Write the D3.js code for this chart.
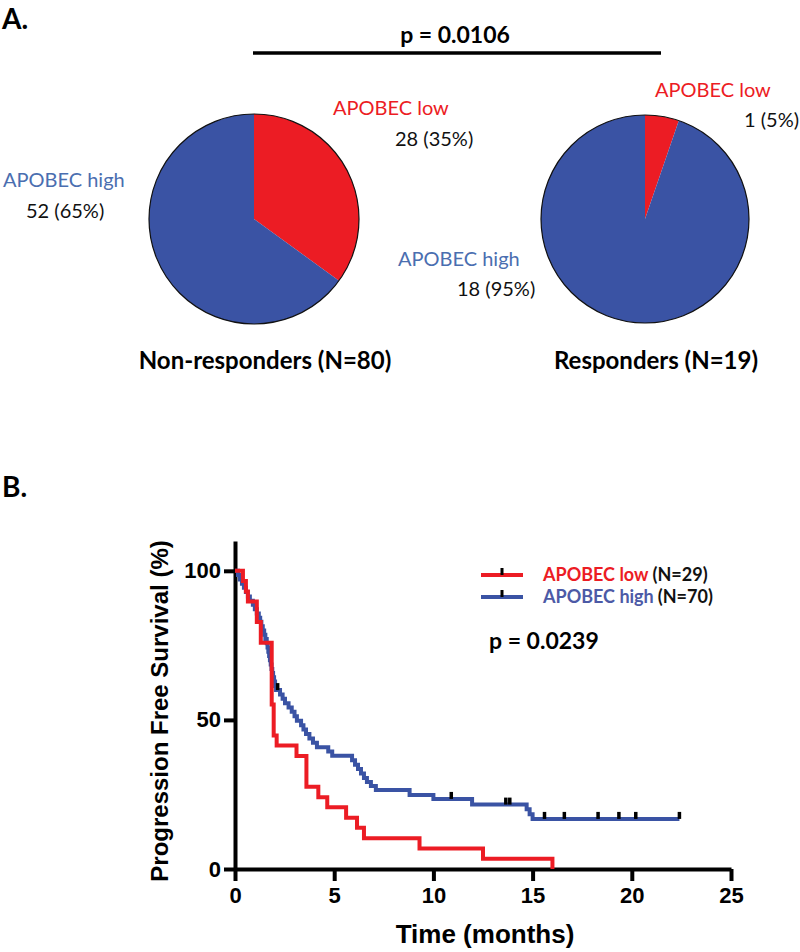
<!DOCTYPE html>
<html>
<head>
<meta charset="utf-8">
<script src="https://cdn.jsdelivr.net/npm/d3@7"></script>
<style>
  html, body { margin: 0; padding: 0; background: #fff; }
  svg { display: block; }
</style>
</head>
<body>
<script>
// ---------- Panel A data ----------
const pieGroups = ["Non-responders (N=80)", "Responders (N=19)"];
const pieCategories = ["APOBEC low", "APOBEC high"];
const lowCounts = [28, 1];
const highCounts = [52, 18];
const lowLabels = ["28 (35%)", "1 (5%)"];
const highLabels = ["52 (65%)", "18 (95%)"];
const pValueA = "p = 0.0106";

// ---------- Panel B data (Kaplan-Meier steps) ----------
const redTimes = [0, 0.4, 0.55, 0.65, 1.1, 1.3, 1.85, 1.95, 2.1, 3.1, 3.6, 4.2, 4.65, 5.6, 6.15, 6.5, 9.3, 12.5, 16.0];
const redSurv  = [100, 96.6, 93.1, 89.7, 82.8, 75.9, 55.2, 44.8, 41.4, 37.9, 27.6, 24.1, 20.7, 17.2, 13.8, 10.3, 6.9, 3.4, 0];
const blueTimes = [0, 0.15, 0.25, 0.35, 0.45, 0.55, 0.65, 0.75, 0.9, 1.0, 1.1, 1.2, 1.27, 1.33, 1.4, 1.47, 1.53, 1.6,
                   1.64, 1.68, 1.72, 1.76, 1.8, 1.84, 1.88, 1.92, 1.97, 2.02, 2.07, 2.27, 2.4, 2.52, 2.7, 2.86, 3.0,
                   3.12, 3.33, 3.45, 3.58, 3.75, 3.93, 4.13, 4.7, 4.9, 5.9, 6.05, 6.2, 6.35, 6.5, 6.65, 6.85, 7.1,
                   8.8, 10.0, 11.95, 14.7, 14.85, 15.0, 22.4];
const blueSurv  = [100, 98.6, 97.1, 95.7, 94.3, 92.9, 91.4, 90.0, 88.6, 87.1, 85.7, 84.3, 82.9, 81.4, 80.0, 78.6, 77.1, 75.7,
                   74.3, 72.9, 71.4, 70.0, 68.6, 67.1, 65.7, 64.3, 62.9, 61.4, 60.0, 58.5, 57.1, 55.6, 54.2, 52.7, 51.2,
                   49.7, 48.2, 46.8, 45.3, 43.8, 42.3, 40.8, 39.4, 38.0, 36.5, 35.0, 33.5, 32.0, 30.5, 29.2, 27.8, 26.5,
                   24.8, 23.5, 21.6, 20.0, 18.4, 16.8, 16.8];
const blueCensor = [2.15, 10.9, 13.65, 13.85, 15.6, 16.6, 18.3, 19.35, 20.2, 22.4];
const redCensor = [];
const xTicks = [0, 5, 10, 15, 20, 25];
const yTicks = [0, 50, 100];
const legendNames = ["APOBEC low", "APOBEC high"];
const legendN = ["(N=29)", "(N=70)"];
const pValueB = "p = 0.0239";

const RED = "#EC1C24", BLUE = "#3A53A4";
const LABEL_BLUE = "#4A6EB0", LEGEND_BLUE = "#4C5AA6";
const SANS = "Lato, 'Open Sans', sans-serif";
const ARIAL = "'Liberation Sans', Arial, sans-serif";

const svg = d3.select("body").append("svg").attr("width", 800).attr("height", 952);

// ---------- Panel A ----------
svg.append("text").attr("x", 2).attr("y", 29).text("A.")
  .style("font-family", SANS).style("font-weight", 700).style("font-size", "28px");

svg.append("text").attr("x", 455).attr("y", 43).attr("text-anchor", "middle").text(pValueA)
  .style("font-family", SANS).style("font-weight", 700).style("font-size", "23px");
svg.append("line").attr("x1", 253).attr("x2", 661).attr("y1", 53).attr("y2", 53)
  .attr("stroke", "#000").attr("stroke-width", 3.5);

const pieCenters = [[254, 219, 105], [645, 219, 104]];
const pie = d3.pie().sort(null).value(d => d.v).startAngle(0).endAngle(2 * Math.PI);
pieGroups.forEach((g, i) => {
  const [cx, cy, r] = pieCenters[i];
  const data = [{k: pieCategories[0], v: lowCounts[i]}, {k: pieCategories[1], v: highCounts[i]}];
  const arc = d3.arc().innerRadius(0).outerRadius(r);
  const gg = svg.append("g").attr("transform", `translate(${cx},${cy})`);
  gg.selectAll("path").data(pie(data)).join("path")
    .attr("d", arc).attr("fill", (d, j) => j === 0 ? RED : BLUE)
    .attr("stroke", "none");
  gg.append("circle").attr("r", r).attr("fill", "none").attr("stroke", "#111").attr("stroke-width", 1.2);
  svg.append("text").attr("x", cx + 11).attr("y", 369).attr("text-anchor", "middle").text(g)
    .style("font-family", SANS).style("font-weight", 700).style("font-size", "24px");
});

const pieTexts = [
  {t: pieCategories[0], x: 333, y: 115, c: RED},
  {t: lowLabels[0], x: 395, y: 146, c: "#111"},
  {t: pieCategories[1], x: 3, y: 187, c: LABEL_BLUE},
  {t: highLabels[0], x: 26, y: 218, c: "#111"},
  {t: pieCategories[1], x: 398, y: 266, c: LABEL_BLUE},
  {t: highLabels[1], x: 457, y: 296, c: "#111"},
  {t: pieCategories[0], x: 655, y: 97, c: RED},
  {t: lowLabels[1], x: 744, y: 127, c: "#111"}
];
svg.selectAll("text.pl").data(pieTexts).join("text").attr("class", "pl")
  .attr("x", d => d.x).attr("y", d => d.y).text(d => d.t).attr("fill", d => d.c)
  .style("font-family", SANS).style("font-size", "20px");

// ---------- Panel B ----------
svg.append("text").attr("x", 2).attr("y", 497).text("B.")
  .style("font-family", SANS).style("font-weight", 700).style("font-size", "28px");

const x = d3.scaleLinear().domain([0, 25]).range([235, 731]);
const y = d3.scaleLinear().domain([0, 110]).range([869, 541]);

const xAxis = svg.append("g").attr("transform", "translate(0,869)")
  .call(d3.axisBottom(x).tickValues(xTicks).tickSize(12).tickPadding(6).tickSizeOuter(0));
const yAxis = svg.append("g").attr("transform", "translate(235,0)")
  .call(d3.axisLeft(y).tickValues(yTicks).tickSize(11).tickPadding(3).tickSizeOuter(0));
[xAxis, yAxis].forEach(a => {
  a.select(".domain").attr("stroke", "#000").attr("stroke-width", 4);
  a.selectAll(".tick line").attr("stroke", "#000").attr("stroke-width", 4);
  a.selectAll(".tick text").attr("fill", "#000")
    .style("font-family", ARIAL).style("font-weight", 700).style("font-size", "22px");
});
xAxis.selectAll(".tick text").attr("dy", "0.71em");

svg.append("text").attr("x", 485).attr("y", 943).attr("text-anchor", "middle").text("Time (months)")
  .style("font-family", ARIAL).style("font-weight", 700).style("font-size", "26px");
svg.append("text").attr("transform", "translate(168,711) rotate(-90)").attr("text-anchor", "middle")
  .text("Progression Free Survival (%)")
  .style("font-family", ARIAL).style("font-weight", 700).style("font-size", "24px");

const line = d3.line().x(d => x(d[0])).y(d => y(d[1])).curve(d3.curveStepAfter);
const bluePts = blueTimes.map((t, i) => [t, blueSurv[i]]);
const redPts = redTimes.map((t, i) => [t, redSurv[i]]);

svg.append("path").attr("d", line(bluePts)).attr("fill", "none").attr("stroke", BLUE).attr("stroke-width", 4);
svg.append("path").attr("d", line(redPts)).attr("fill", "none").attr("stroke", RED).attr("stroke-width", 4);

function survAt(times, surv, t) {
  const i = d3.bisectRight(times, t) - 1;
  return surv[Math.max(0, i)];
}
svg.selectAll("rect.cb").data(blueCensor).join("rect").attr("class", "cb")
  .attr("x", d => x(d) - 1.75).attr("y", d => y(survAt(blueTimes, blueSurv, d)) - 7)
  .attr("width", 3.5).attr("height", 7).attr("fill", "#000");
svg.selectAll("rect.cr").data(redCensor).join("rect").attr("class", "cr")
  .attr("x", d => x(d) - 1.75).attr("y", d => y(survAt(redTimes, redSurv, d)) - 7)
  .attr("width", 3.5).attr("height", 7).attr("fill", "#000");

// legend
const legY = [575, 597];
const legCol = [RED, BLUE];
const legTextCol = [RED, LEGEND_BLUE];
legendNames.forEach((n, i) => {
  svg.append("line").attr("x1", 481).attr("x2", 523).attr("y1", legY[i]).attr("y2", legY[i])
    .attr("stroke", legCol[i]).attr("stroke-width", 4);
  svg.append("rect").attr("x", 500.5).attr("y", legY[i] - 7).attr("width", 3).attr("height", 7).attr("fill", "#000");
  const t = svg.append("text").attr("x", 543).attr("y", legY[i] + 6)
    .style("font-family", SANS).style("font-weight", 700).style("font-size", "18px");
  t.append("tspan").attr("fill", legTextCol[i]).text(n);
  t.append("tspan").attr("fill", "#111").attr("dx", 4).text(legendN[i]);
});

svg.append("text").attr("x", 489).attr("y", 649).text(pValueB)
  .style("font-family", SANS).style("font-weight", 700).style("font-size", "23px");
</script>
</body>
</html>
